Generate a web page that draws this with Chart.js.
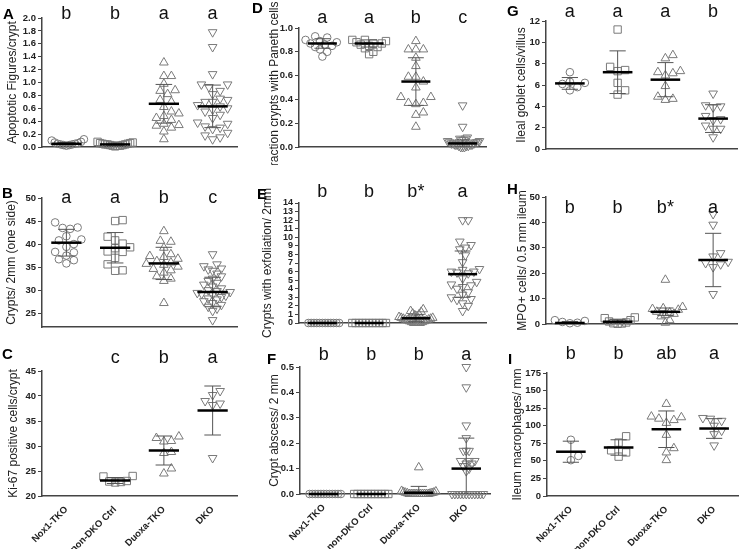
<!DOCTYPE html>
<html>
<head>
<meta charset="utf-8">
<script src="https://cdn.jsdelivr.net/npm/chart.js@4.4.1/dist/chart.umd.min.js"></script>
<style>
  body { margin: 0; background: #fff; width: 740px; height: 549px; position: relative; overflow: hidden; }
  canvas { position: absolute; }
  .tag { position: absolute; font: bold 15px Arial, "Liberation Sans", sans-serif; line-height: 15px; color: #000; }
</style>
</head>
<body>
<script>
const groups = ['Nox1-TKO', 'non-DKO Ctrl', 'Duoxa-TKO', 'DKO']

// A - apoptotic figures / crypt
const aNox1 = [0.02, 0.03, 0.03, 0.04, 0.04, 0.05, 0.05, 0.06, 0.07, 0.08, 0.10, 0.12]
const aCtrl = [0.01, 0.02, 0.02, 0.02, 0.03, 0.03, 0.04, 0.04, 0.04, 0.05, 0.05, 0.06, 0.06, 0.07, 0.08]
const aDuoxa = [1.31, 1.10, 1.10, 0.98, 0.88, 0.87, 0.82, 0.73, 0.70, 0.62, 0.55, 0.52, 0.48, 0.45, 0.42, 0.36, 0.34, 0.33, 0.30, 0.24, 0.12]
const aDko = [1.78, 1.55, 1.13, 0.97, 0.97, 0.93, 0.87, 0.82, 0.75, 0.73, 0.70, 0.70, 0.65, 0.63, 0.60, 0.58, 0.55, 0.50, 0.45, 0.38, 0.36, 0.32, 0.30, 0.28, 0.22, 0.18, 0.15, 0.12]
const aMean = [0.05, 0.04, 0.67, 0.63]
const aSd = [0.02, 0.02, 0.30, 0.33]
const aLetters = ['b', 'b', 'a', 'a']
const aTicks = [0, 0.2, 0.4, 0.6, 0.8, 1.0, 1.2, 1.4, 1.6, 1.8, 2.0]

// B - crypts / 2mm
const bNox1 = [44.7, 43.5, 43.3, 43.6, 41.7, 41.0, 40.8, 40.0, 39.4, 38.3, 38.2, 37.5, 36.7, 36.5, 35.8]
const bCtrl = [45.2, 45.0, 41.6, 40.8, 40.1, 39.3, 39.1, 38.4, 38.3, 37.0, 35.6, 34.2, 34.3]
const bDuoxa = [42.8, 40.7, 40.5, 39.2, 37.8, 37.4, 37.2, 36.8, 36.3, 36.0, 35.7, 35.5, 35.1, 34.6, 34.3, 33.8, 33.0, 32.5, 32.0, 27.2]
const bDko = [37.8, 35.6, 35.2, 34.7, 34.5, 34.2, 33.6, 33.0, 32.5, 32.0, 31.6, 31.2, 30.8, 30.4, 30.0, 29.8, 29.6, 29.4, 29.2, 29.0, 28.8, 28.5, 28.2, 28.0, 27.6, 27.2, 26.8, 26.4, 26.0, 25.5, 23.5]
const bMean = [40.3, 39.2, 35.8, 29.6]
const bSd = [2.9, 3.3, 3.5, 3.2]
const bLetters = ['a', 'a', 'b', 'c']
const bTicks = [25, 30, 35, 40, 45, 50]

// C - Ki-67 positive cells / crypt
const cNox1 = []
const cCtrl = [24.0, 23.9, 23.0, 22.9, 22.8, 22.7]
const cDuoxa = [31.9, 31.6, 31.0, 30.9, 28.8, 28.6, 25.5, 24.5]
const cDko = [41.0, 40.2, 39.0, 38.5, 38.2, 27.6]
const cMean = [null, 23.1, 29.1, 37.1]
const cSd = [null, 0.6, 2.9, 4.9]
const cLetters = ['', 'c', 'b', 'a']
const cTicks = [20, 25, 30, 35, 40, 45]

// D - fraction crypts with Paneth cells
const dNox1 = [0.93, 0.92, 0.90, 0.89, 0.88, 0.87, 0.86, 0.85, 0.84, 0.82, 0.80, 0.76]
const dCtrl = [0.90, 0.90, 0.89, 0.88, 0.87, 0.87, 0.86, 0.85, 0.84, 0.83, 0.80, 0.78]
const dDuoxa = [0.89, 0.82, 0.82, 0.82, 0.75, 0.68, 0.59, 0.59, 0.55, 0.50, 0.42, 0.42, 0.37, 0.37, 0.36, 0.29, 0.27, 0.17]
const dDko = [0.35, 0.17, 0.08, 0.07, 0.07, 0.06, 0.06, 0.05, 0.05, 0.04, 0.04, 0.04, 0.03, 0.03, 0.03, 0.02, 0.02, 0.02, 0.02, 0.01, 0.01, 0.01, 0, 0, 0]
const dMean = [0.87, 0.87, 0.55, 0.03]
const dSd = [0.04, 0.03, 0.20, 0.03]
const dLetters = ['a', 'a', 'b', 'c']
const dTicks = [0, 0.2, 0.4, 0.6, 0.8, 1.0]

// E - crypts with exfoliation / 2mm
const eNox1 = [0, 0, 0, 0, 0, 0, 0, 0, 0, 0, 0, 0]
const eCtrl = [0, 0, 0, 0, 0, 0, 0, 0, 0, 0, 0]
const eDuoxa = [1.6, 1.4, 1.3, 1.1, 1.0, 0.9, 0.8, 0.7, 0.6, 0.6, 0.5, 0.5, 0.4, 0.4, 0.3, 0.3, 0.2, 0.2, 0.1, 0.1, 0, 0, 0, 0]
const eDko = [12.0, 12.0, 9.5, 9.1, 8.8, 8.6, 7.9, 7.1, 6.3, 6.2, 6.0, 6.0, 5.9, 5.8, 5.2, 4.8, 4.5, 4.4, 4.2, 4.0, 3.6, 3.3, 3.0, 2.8, 2.7, 2.3, 2.0, 1.4]
const eMean = [0, 0, 0.55, 5.7]
const eSd = [0, 0, 0.4, 2.7]
const eLetters = ['b', 'b', 'b*', 'a']
const eTicks = [0, 1, 2, 3, 4, 5, 6, 7, 8, 9, 10, 11, 12, 13, 14]

// F - crypt abscess / 2 mm
const fNox1 = [0, 0, 0, 0, 0, 0, 0, 0, 0, 0, 0, 0]
const fCtrl = [0, 0, 0, 0, 0, 0, 0, 0, 0, 0, 0]
const fDuoxa = [0.105, 0.012, 0.01, 0.008, 0.006, 0.005, 0.004, 0.003, 0.002, 0, 0, 0, 0, 0, 0, 0, 0, 0, 0, 0]
const fDko = [0.50, 0.42, 0.27, 0.22, 0.17, 0.17, 0.17, 0.13, 0.13, 0.13, 0.12, 0.12, 0.11, 0.10, 0.09, 0, 0, 0, 0, 0, 0, 0, 0, 0, 0, 0, 0]
const fMean = [0, 0, 0.005, 0.10]
const fSd = [0, 0, 0.025, 0.12]
const fLetters = ['b', 'b', 'b', 'a']
const fTicks = [0, 0.1, 0.2, 0.3, 0.4, 0.5]

// G - ileal goblet cells / villus
const gNox1 = [7.2, 6.3, 6.2, 6.1, 5.8, 5.5]
const gCtrl = [11.2, 7.7, 7.4, 7.3, 6.2, 5.5, 5.1]
const gDuoxa = [8.8, 8.5, 7.3, 7.2, 7.1, 6.9, 5.9, 4.9, 4.7, 4.6]
const gDko = [5.2, 4.1, 4.0, 3.9, 3.1, 2.8, 2.7, 2.2, 1.9, 1.9, 1.1]
const gMean = [6.15, 7.2, 6.5, 2.85]
const gSd = [0.55, 2.0, 1.6, 1.3]
const gLetters = ['a', 'a', 'a', 'b']
const gTicks = [0, 2, 4, 6, 8, 10, 12]

// H - MPO+ cells / 0.5 mm ileum
const hNox1 = [1.5, 1.2, 0.8, 0.5, 0.3]
const hCtrl = [2.6, 2.3, 1.5, 1.0, 0.6, 0.3, 0.2, 0.1]
const hDuoxa = [17.4, 6.7, 6.2, 5.9, 5.6, 4.8, 4.5, 4.0, 3.5, 3.0, 1.5, 0.5]
const hDko = [43.3, 39.1, 27.9, 26.6, 24.5, 24.0, 23.5, 22.4, 11.8]
const hMean = [0.4, 0.9, 4.8, 25.2]
const hSd = [0.6, 1.0, 1.5, 10.5]
const hLetters = ['b', 'b', 'b*', 'a']
const hTicks = [0, 10, 20, 30, 40, 50]

// I - ileum macrophages / mm
const iNox1 = [80, 57, 51]
const iCtrl = [85, 76, 65, 62, 56]
const iDuoxa = [131, 113, 112, 110, 108, 104, 87, 68, 62, 51]
const iDko = [111, 110, 107, 100, 93, 88, 72]
const iMean = [63, 69, 95, 96]
const iSd = [15, 11, 26, 14]
const iLetters = ['b', 'b', 'ab', 'a']
const iTicks = [0, 25, 50, 75, 100, 125, 150, 175]

// page layout
const YW = 40
const cols = [[0, 248], [248, 496], [496, 740]]
const rows = [[0, 165], [165, 345], [345, 549]]

const panels = [
  { tag: 'A', col: 0, row: 0, plot: [42, 237, 18, 147], range: [0, 2], ticks: aTicks, dec: 1, title: 'Apoptotic Figures/crypt', gap: 29, sets: [aNox1, aCtrl, aDuoxa, aDko], mean: aMean, sd: aSd, letters: aLetters, letterDy: 1, tagPos: [3, 6] },
  { tag: 'B', col: 0, row: 1, plot: [42, 237, 198, 327], range: [22, 50], ticks: bTicks, dec: 0, title: 'Crypts/ 2mm (one side)', gap: 30, sets: [bNox1, bCtrl, bDuoxa, bDko], mean: bMean, sd: bSd, letters: bLetters, letterDy: 5, tagPos: [2, 185] },
  { tag: 'C', col: 0, row: 2, plot: [42, 237, 371, 496], range: [20, 45], ticks: cTicks, dec: 0, title: 'Ki-67 positive cells/crypt', gap: 28, sets: [cNox1, cCtrl, cDuoxa, cDko], mean: cMean, sd: cSd, letters: cLetters, letterDy: -8, tagPos: [2, 346] },
  { tag: 'D', col: 1, row: 0, plot: [299, 486, 28, 147], range: [0, 1], ticks: dTicks, dec: 1, title: 'Fraction crypts with Paneth cells', gap: 24, sets: [dNox1, dCtrl, dDuoxa, dDko], mean: dMean, sd: dSd, letters: dLetters, letterDy: -5, tagPos: [252, 0] },
  { tag: 'E', col: 1, row: 1, plot: [299, 486, 203, 323], range: [0, 14], ticks: eTicks, dec: 0, title: 'Crypts with exfoliation/ 2mm', gap: 31, sets: [eNox1, eCtrl, eDuoxa, eDko], mean: eMean, sd: eSd, letters: eLetters, letterDy: -6, tagPos: [257, 186], tickSize: 9 },
  { tag: 'F', col: 1, row: 2, plot: [300, 490, 367, 494], range: [0, 0.5], ticks: fTicks, dec: 1, title: 'Crypt abscess/ 2 mm', gap: 25, sets: [fNox1, fCtrl, fDuoxa, fDko], mean: fMean, sd: fSd, letters: fLetters, letterDy: -7, tagPos: [267, 351] },
  { tag: 'G', col: 2, row: 0, plot: [546, 737, 21, 149], range: [0, 12], ticks: gTicks, dec: 0, title: 'Ileal goblet cells/villus', gap: 24, sets: [gNox1, gCtrl, gDuoxa, gDko], mean: gMean, sd: gSd, letters: gLetters, letterDy: -4, tagPos: [507, 3] },
  { tag: 'H', col: 2, row: 1, plot: [546, 737, 197, 324], range: [0, 50], ticks: hTicks, dec: 0, title: 'MPO+ cells/ 0.5 mm ileum', gap: 23, sets: [hNox1, hCtrl, hDuoxa, hDko], mean: hMean, sd: hSd, letters: hLetters, letterDy: 16, tagPos: [507, 181] },
  { tag: 'I', col: 2, row: 2, plot: [547, 738, 373, 496], range: [0, 175], ticks: iTicks, dec: 0, title: 'Ileum macrophages/ mm', gap: 29, sets: [iNox1, iCtrl, iDuoxa, iDko], mean: iMean, sd: iSd, letters: iLetters, letterDy: -14, tagPos: [508, 351] },
]

const markers = [
  { pointStyle: 'circle', pointRadius: 3.8 },
  { pointStyle: 'rect', pointRadius: 5.2 },
  { pointStyle: 'triangle', pointRadius: 5 },
  { pointStyle: 'triangle', pointRadius: 5, pointRotation: 180 },
]

Chart.defaults.font.family = 'Arial, "Liberation Sans", sans-serif'

// spread points sideways like a dot plot so they don't sit on top of each other
const swarm = (values, yMin, yMax, plotH, slotPx) => {
  const d = 7.5, step = d / 2
  const placed = []
  const offs = new Array(values.length).fill(0)
  const order = values.map((v, i) => i).sort((a, b) => values[a] - values[b])
  for (const i of order) {
    const py = (values[i] - yMin) / (yMax - yMin) * plotH
    let off = 0
    for (let k = 0; k < 80; k++) {
      const cand = k === 0 ? 0 : (k % 2 ? 1 : -1) * Math.ceil(k / 2) * step
      const hit = placed.some(p => (p.x - cand) ** 2 + (p.y - py) ** 2 < d * d)
      if (!hit) { off = cand; break }
    }
    placed.push({ x: off, y: py })
    offs[i] = off
  }
  const maxHalf = slotPx * 0.36
  const widest = Math.max(0, ...offs.map(Math.abs))
  const k = widest > maxHalf ? maxHalf / widest : 1
  return offs.map(o => o * k / slotPx)
}

const summaryPlugin = {
  id: 'summary',
  afterDatasetsDraw(chart, args, opts) {
    const { ctx, chartArea, scales: { x, y } } = chart
    ctx.save()
    opts.means.forEach((m, i) => {
      if (m == null) return
      const cx = x.getPixelForValue(i)
      const half = x.getPixelForValue(i + 0.31) - cx
      const cap = x.getPixelForValue(i + 0.17) - cx
      const my = y.getPixelForValue(m)
      const sd = opts.sds[i]
      if (sd > 0) {
        const top = y.getPixelForValue(m + sd)
        const bot = y.getPixelForValue(m - sd)
        ctx.save()
        ctx.beginPath()
        ctx.rect(chartArea.left, chartArea.top - 10, chartArea.width, chartArea.height + 10)
        ctx.clip()
        ctx.strokeStyle = '#555'
        ctx.lineWidth = 1
        ctx.beginPath()
        ctx.moveTo(cx, top); ctx.lineTo(cx, bot)
        ctx.moveTo(cx - cap, top); ctx.lineTo(cx + cap, top)
        ctx.moveTo(cx - cap, bot); ctx.lineTo(cx + cap, bot)
        ctx.stroke()
        ctx.restore()
      }
      ctx.strokeStyle = '#000'
      ctx.lineWidth = 2.5
      ctx.beginPath()
      ctx.moveTo(cx - half, my); ctx.lineTo(cx + half, my)
      ctx.stroke()
    })
    // significance letters above each group
    ctx.fillStyle = '#111'
    ctx.font = '18px Arial, "Liberation Sans", sans-serif'
    ctx.textAlign = 'center'
    ctx.textBaseline = 'alphabetic'
    opts.letters.forEach((t, i) => {
      ctx.fillText(t, x.getPixelForValue(i), chartArea.top + opts.letterDy)
    })
    ctx.restore()
  }
}

for (const p of panels) {
  const [x0, x1] = cols[p.col]
  const [y0, y1] = rows[p.row]
  const [L, R, T, B] = p.plot
  const [yMin, yMax] = p.range
  const slot = (R - L) / 4

  const cv = document.createElement('canvas')
  cv.width = x1 - x0
  cv.height = y1 - y0
  cv.style.left = x0 + 'px'
  cv.style.top = y0 + 'px'
  document.body.appendChild(cv)

  const datasets = p.sets.map((vals, i) => {
    const offs = swarm(vals, yMin, yMax, B - T, slot)
    return {
      data: vals.map((v, k) => ({ x: i + offs[k], y: v })),
      borderColor: '#7a7a7a',
      backgroundColor: 'rgba(0,0,0,0)',
      pointBorderWidth: 1,
      clip: false,
      ...markers[i],
    }
  })

  new Chart(cv, {
    type: 'scatter',
    data: { datasets },
    plugins: [summaryPlugin],
    options: {
      responsive: false,
      animation: false,
      devicePixelRatio: 1,
      layout: { autoPadding: false, padding: { left: L - x0 - YW, right: x1 - R, top: T - y0, bottom: 0 } },
      plugins: {
        legend: { display: false },
        tooltip: { enabled: false },
        summary: { means: p.mean, sds: p.sd, letters: p.letters, letterDy: p.letterDy },
      },
      scales: {
        x: {
          type: 'linear',
          min: -0.5,
          max: 3.5,
          afterBuildTicks: s => { s.ticks = groups.map((g, i) => ({ value: i })) },
          afterFit: s => { s.height = y1 - B },
          grid: { display: false },
          border: { color: '#444', width: 1.5 },
          ticks: {
            display: p.row === 2,
            autoSkip: false,
            minRotation: 45,
            maxRotation: 45,
            padding: 0,
            color: '#222',
            font: { size: 9.5, weight: 'bold' },
            callback: v => groups[v],
          },
        },
        y: {
          min: yMin,
          max: yMax,
          afterBuildTicks: s => { s.ticks = p.ticks.map(v => ({ value: v })) },
          afterFit: s => { s.width = YW },
          grid: { drawOnChartArea: false, tickLength: 4, color: '#444' },
          border: { color: '#444', width: 1.5 },
          ticks: {
            autoSkip: false,
            padding: 2,
            color: '#222',
            font: { size: p.tickSize || 9.5, weight: 'bold' },
            callback: v => v.toFixed(p.dec),
          },
          title: {
            display: true,
            text: p.title,
            color: '#222',
            font: { size: 12 },
            padding: { top: 32.8 - p.gap, bottom: 0 },
          },
        },
      },
    },
  })

  const tag = document.createElement('div')
  tag.className = 'tag'
  tag.textContent = p.tag
  tag.style.left = p.tagPos[0] + 'px'
  tag.style.top = p.tagPos[1] + 'px'
  document.body.appendChild(tag)
}
</script>
</body>
</html>
